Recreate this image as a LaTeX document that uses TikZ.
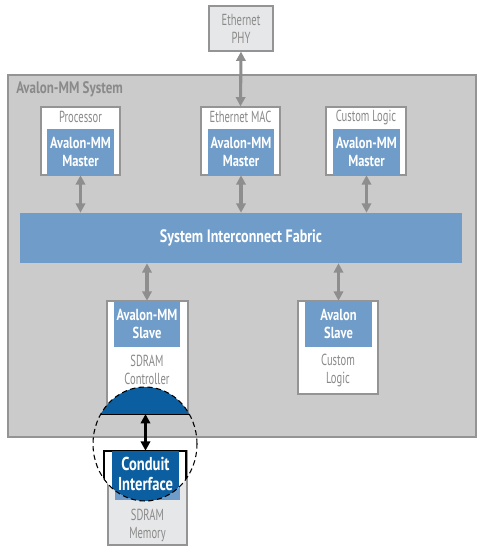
\documentclass[tikz,border=0pt]{standalone}
\usepackage{fontspec}
\setmainfont[FakeStretch=0.66, BoldFeatures={FakeStretch=0.78}]{PT Sans}
\usetikzlibrary{arrows.meta,fit}
\definecolor{sysgray}{HTML}{CBCBCB}
\definecolor{edgegray}{HTML}{949494}
\definecolor{txtgray}{HTML}{8A8A8A}
\definecolor{arrowgray}{HTML}{8E8E8E}
\definecolor{blueA}{HTML}{6F9CC8}
\definecolor{blueD}{HTML}{0B5FA0}
\definecolor{phyfill}{HTML}{E6E7E8}
\tikzset{
  box/.style={draw=edgegray, line width=0.9pt, fill=white, inner sep=0pt},
  phybox/.style={draw=edgegray, line width=0.9pt, fill=phyfill, inner sep=0pt},
  sysbox/.style={draw=edgegray, line width=0.9pt, fill=sysgray, inner sep=0pt},
  iface/.style={fill=blueA, inner sep=0pt},
  itext/.style={inner sep=0pt, text=white,
     font=\bfseries\fontsize{12}{13.5}\selectfont, align=center},
  lbl/.style={text=txtgray, font=\fontsize{12}{13.5}\selectfont, align=center, inner sep=0pt},
  garrow/.style={draw=arrowgray, line width=2.3pt,
     {Triangle[width=7pt,length=7pt]}-{Triangle[width=7pt,length=7pt]}},
  barrow/.style={draw=black, line width=2.3pt,
     {Triangle[width=7pt,length=7pt]}-{Triangle[width=7pt,length=7pt]}},
}
\begin{document}
\begin{tikzpicture}[x=0.75pt,y=-0.75pt]
\useasboundingbox (0,0) rectangle (485,553);

% system
\node[sysbox, fit={(8,75)(476,437)}] (sys) {};
\node[anchor=west, inner sep=0pt, text=txtgray, font=\bfseries\fontsize{12.5}{13.5}\selectfont] (systitle) at (16,89) {Avalon-MM System};

% masters
\node[box, fit={(41,107)(120,175)}] (proc) {};
\node[lbl] (proclbl) at (80.5,117) {Processor};
\node[iface, fit={(47,129)(114,175)}] (procm) {};
\node[itext] (procmt) at (procm.center) {Avalon-MM\\Master};

\node[box, fit={(201,107)(280,175)}] (mac) {};
\node[lbl] (maclbl) at (240.5,117) {Ethernet MAC};
\node[iface, fit={(208,129)(274,175)}] (macm) {};
\node[itext] (macmt) at (macm.center) {Avalon-MM\\Master};

\node[box, fit={(326,107)(406,175)}] (cl) {};
\node[lbl] (cllbl) at (366,117) {Custom Logic};
\node[iface, fit={(333,129)(400,175)}] (clm) {};
\node[itext] (clmt) at (clm.center) {Avalon-MM\\Master};

% fabric
\node[iface, fit={(20,213)(462,263)}] (fab) {};
\node[itext, font=\bfseries\fontsize{13.5}{14}\selectfont] (fabt) at (fab.center) {System Interconnect Fabric};

% slaves
\node[box, fit={(107,301)(188,414)}] (sdc) {};
\node[iface, fit={(114,301)(180,347)}] (sdcs) {};
\node[itext] (sdcst) at (sdcs.center) {Avalon-MM\\Slave};
\node[lbl] (sdclbl) at (147,370) {SDRAM\\Controller};

\node[box, fit={(298,301)(378,394)}] (cls) {};
\node[iface, fit={(305,301)(372,347)}] (clss) {};
\node[itext] (clsst) at (clss.center) {Avalon\\Slave};
\node[lbl] (clslbl) at (338,370) {Custom\\Logic};

% PHY
\node[phybox, fit={(209,6)(273,51)}] (phy) {};
\node[lbl] (phyt) at (phy.center) {Ethernet\\PHY};

% memory
\node[phybox, fit={(108,451)(187,545)}] (mem) {};
\node[iface, fit={(115,451)(180,500)}] (memi) {};
\node[lbl] (memlbl) at (147.5,525) {SDRAM\\Memory};

% gray arrows
\draw[garrow] (phy.south) -- (mac.north);
\draw[garrow] (procm.south) -- (procm.south |- fab.north);
\draw[garrow] (macm.south) -- (macm.south |- fab.north);
\draw[garrow] (clm.south) -- (clm.south |- fab.north);
\draw[garrow] (fab.south -| sdcs.north) -- (sdcs.north);
\draw[garrow] (fab.south -| clss.north) -- (clss.north);

% magnifier
\coordinate (mc) at (145,444);
\begin{scope}
  \clip (mc) ellipse [x radius=39pt, y radius=42.75pt];
  \fill[blueD] (80,370) rectangle (210,414);
  \draw[black, line width=0.7pt] (80,414) -- (210,414);
  \fill[white] (104,451) rectangle (186,520);
  \draw[black, line width=0.8pt] (104,520) -- (104,451) -- (186,451) -- (186,520);
  \node[fill=blueD, inner sep=0pt, fit={(112,451)(179,520)}] (condbg) {};
  \node[inner sep=0pt, text=white, font=\bfseries\fontsize{14}{15.5}\selectfont, align=center] (cond) at (145.5,474) {Conduit\\Interface};
\end{scope}
\coordinate (domebase) at (145.5,414);
\draw[barrow] (domebase) -- (condbg.north);
\draw[black, line width=0.8pt, dash pattern=on 4pt off 2.5pt] (mc) ellipse [x radius=39pt, y radius=42.75pt];
\end{tikzpicture}
\end{document}
